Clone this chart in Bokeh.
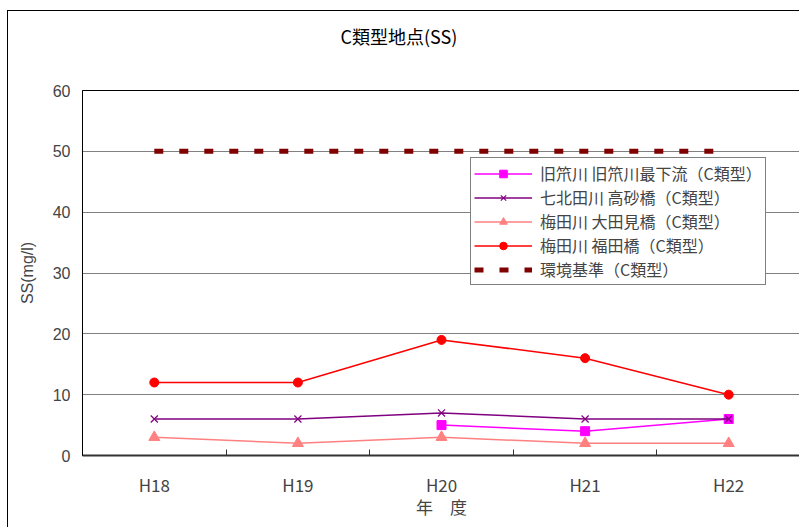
from bokeh.plotting import figure
from bokeh.models import FixedTicker, Legend, LegendItem, Range1d, Title
from bokeh.embed import file_html
from bokeh.resources import INLINE

nan = float("nan")
years = ["H18", "H19", "H20", "H21", "H22"]
xs = [0, 1, 2, 3, 4]
kyu_zaru = [nan, nan, 5, 4, 6]            # 旧笊川 旧笊川最下流
nanakita = [6, 6, 7, 6, 6]                # 七北田川 高砂橋
umeda_oota = [3, 2, 3, 2, 2]              # 梅田川 大田見橋
umeda_fukuda = [12, 12, 19, 16, 10]       # 梅田川 福田橋
standard = [50, 50, 50, 50, 50]           # 環境基準
y_ticks = [0, 10, 20, 30, 40, 50, 60]

names = ["旧笊川 旧笊川最下流（C類型）", "七北田川 高砂橋（C類型）", "梅田川 大田見橋（C類型）",
         "梅田川 福田橋（C類型）", "環境基準（C類型）"]
title_text = "C類型地点(SS)"

JP = "Noto Sans CJK JP"
NUM = "Liberation Sans"

p = figure(width=792, height=517, output_backend="svg", toolbar_location=None,
           x_range=Range1d(-0.5, 4.5), y_range=Range1d(0, 60),
           min_border_left=74, min_border_right=0, min_border_top=78, min_border_bottom=73,
           styles={"border-left": "1px solid black", "border-top": "1px solid black",
                   "margin-top": "10px", "margin-left": "7px"})
p.title.text = ""
p.title.standoff = 0

# spacer between plot frame and title
p.add_layout(Title(text=" ", text_font_size="1px", standoff=30), "above")
# chart title
p.add_layout(Title(text=title_text, align="left", offset=258, standoff=18,
                   text_font=JP, text_font_size="18px", text_font_style="normal",
                   text_color="black"), "above")

p.outline_line_color = "black"
p.outline_line_width = 1
p.background_fill_color = "white"
p.border_fill_color = "white"

# x axis
p.xaxis.ticker = FixedTicker(ticks=xs, minor_ticks=[0.5, 1.5, 2.5, 3.5])
p.xaxis.major_label_overrides = {x: y for x, y in zip(xs, years)}
p.xaxis.major_tick_in = 0
p.xaxis.major_tick_out = 0
p.xaxis.minor_tick_in = 6
p.xaxis.minor_tick_out = 0
p.xaxis.minor_tick_line_color = "#333333"
p.xaxis.axis_line_color = "#333333"
p.xaxis.axis_line_width = 2
p.xaxis.major_label_text_font = JP
p.xaxis.major_label_text_font_size = "17px"
p.xaxis.major_label_standoff = 16
p.xaxis.axis_label = "年　度"
p.xaxis.axis_label_text_font = JP
p.xaxis.axis_label_text_font_size = "17px"
p.xaxis.axis_label_text_font_style = "normal"
p.xaxis.axis_label_standoff = -6
p.xgrid.visible = False

# y axis
p.yaxis.ticker = FixedTicker(ticks=y_ticks)
p.yaxis.major_tick_in = 0
p.yaxis.major_tick_out = 0
p.yaxis.minor_tick_line_color = None
p.yaxis.axis_line_color = "black"
p.yaxis.major_label_text_font = NUM
p.yaxis.major_label_text_font_size = "16px"
p.yaxis.major_label_standoff = 12
p.yaxis.axis_label = "SS(mg/l)"
p.yaxis.axis_label_text_font = NUM
p.yaxis.axis_label_text_font_size = "16px"
p.yaxis.axis_label_text_font_style = "normal"
p.yaxis.axis_label_standoff = 14
p.ygrid.grid_line_color = "#808080"
p.ygrid.grid_line_width = 1

# series
r_std = p.line(xs, standard, line_color="#800000", line_width=5, line_dash="9 16")

l1 = p.line(xs, kyu_zaru, line_color="#FF00FF", line_width=1.5)
m1 = p.scatter(xs, kyu_zaru, marker="square", size=9, fill_color="#FF00FF", line_color="#FF00FF")

l2 = p.line(xs, nanakita, line_color="#800080", line_width=1.5)
m2 = p.scatter(xs, nanakita, marker="x", size=10, line_color="#800080", line_width=1.2)

l3 = p.line(xs, umeda_oota, line_color="#FF8080", line_width=1.5)
m3 = p.scatter(xs, umeda_oota, marker="triangle", size=11, fill_color="#FF8080", line_color="#FF8080")

l4 = p.line(xs, umeda_fukuda, line_color="#FF0000", line_width=1.5)
m4 = p.scatter(xs, umeda_fukuda, marker="circle", size=9, fill_color="#FF0000", line_color="#FF0000")

legend = Legend(items=[
    LegendItem(label=names[0], renderers=[l1, m1]),
    LegendItem(label=names[1], renderers=[l2, m2]),
    LegendItem(label=names[2], renderers=[l3, m3]),
    LegendItem(label=names[3], renderers=[l4, m4]),
    LegendItem(label=names[4], renderers=[r_std]),
], location=(388, 170))
legend.label_text_font = JP
legend.label_text_font_size = "16px"
legend.glyph_width = 58
legend.glyph_height = 19
legend.label_height = 19
legend.spacing = 0
legend.padding = 3
legend.margin = 0
legend.label_standoff = 8
legend.border_line_color = "black"
legend.border_line_width = 1
legend.background_fill_alpha = 1
p.add_layout(legend, "center")

open("out.html", "w").write(file_html(p, INLINE))
